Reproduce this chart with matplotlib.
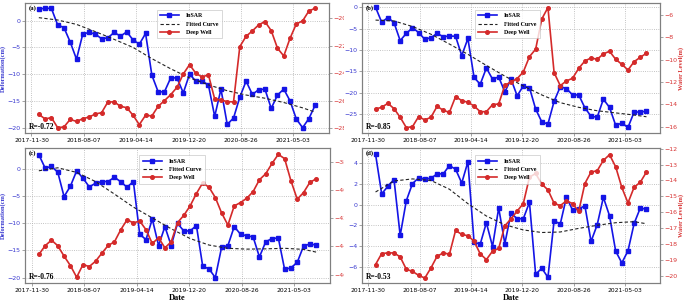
import matplotlib
matplotlib.use('Agg')
import matplotlib.pyplot as plt
from matplotlib.patches import Rectangle
import pandas as pd

# ---------------- data ----------------
dates = pd.date_range('2018-01-04', periods=45, freq='30D')
tick_dates = ['2017-11-30', '2018-08-07', '2019-04-14', '2019-12-20', '2020-08-26', '2021-05-03']
fit_idx = [0, 3, 6, 9, 12, 15, 18, 21, 24, 27, 30, 33, 36, 39, 42, 44]

insar_a = [2.2, 2.3, 2.3, -0.8, -1.3, -4.0, -7.2, -2.5, -2.2, -2.5, -3.4, -3.2, -2.2, -2.9, -2.1,
           -3.6, -4.4, -2.4, -10.2, -13.3, -13.3, -10.7, -10.7, -13.5, -10.0, -11.3, -11.3, -12.0,
           -17.9, -12.8, -19.4, -18.2, -14.3, -11.3, -13.8, -12.9, -12.8, -16.4, -13.9, -12.8,
           -15.0, -18.4, -20.0, -18.3, -15.8]
well_a = [-26.98, -27.32, -27.22, -27.95, -27.9, -27.35, -27.5, -27.3, -27.18, -26.96, -26.86,
          -26.08, -26.08, -26.4, -26.5, -27.05, -27.73, -27.05, -27.1, -26.4, -25.99, -25.55,
          -25.02, -24.05, -23.37, -24.0, -24.27, -24.1, -25.87, -25.94, -26.06, -26.08, -22.06,
          -21.31, -20.92, -20.48, -20.24, -20.9, -22.18, -22.74, -21.45, -20.41, -20.19, -19.47,
          -19.27]
fit_a = [0.56, 0.12, -0.7, -2.05, -3.5, -5.0, -7.1, -9.0, -10.7, -12.0, -13.1, -13.9, -14.5,
         -15.3, -16.3, -17.1]

insar_b = [0.0, -3.5, -2.4, -3.6, -7.8, -6.1, -4.8, -5.9, -7.5, -7.1, -6.1, -6.9, -6.7, -6.8,
           -11.3, -7.3, -16.4, -18.0, -14.2, -16.8, -16.3, -19.8, -16.8, -20.7, -18.4, -18.8,
           -23.8, -26.8, -27.3, -22.0, -18.6, -19.0, -20.5, -20.5, -23.5, -25.5, -25.7, -21.5,
           -23.4, -27.6, -27.1, -28.1, -24.5, -24.5, -24.3]
well_b = [-14.42, -14.27, -13.91, -14.39, -15.16, -16.09, -16.0, -15.1, -15.4, -15.16, -14.18,
          -14.54, -14.72, -13.31, -13.67, -13.82, -14.15, -14.66, -14.66, -14.03, -13.97, -12.3,
          -12.0, -11.7, -11.1, -9.73, -9.07, -6.36, -5.34, -11.16, -12.33, -11.91, -11.67,
          -10.78, -10.12, -9.85, -9.97, -9.49, -9.25, -9.97, -10.42, -10.93, -10.18, -9.79, -9.43]
fit_b = [-3.0, -3.2, -4.5, -6.3, -8.6, -11.0, -13.6, -16.1, -18.4, -20.5, -22.3, -23.4, -24.2,
         -24.7, -25.2, -25.6]

insar_c = [2.65, 0.19, 0.5, -0.56, -5.06, -3.15, -0.31, -1.67, -3.27, -2.59, -2.28, -2.28, -1.48,
           -2.35, -3.33, -2.28, -12.0, -13.0, -9.2, -14.1, -10.6, -14.1, -10.0, -11.4, -11.4,
           -10.4, -17.9, -18.4, -20.0, -14.4, -14.1, -10.6, -12.0, -12.3, -12.5, -16.2, -13.4,
           -12.8, -12.7, -18.5, -18.2, -17.2, -14.2, -13.8, -14.0]
well_c = [-44.57, -43.95, -43.55, -43.95, -44.69, -45.36, -46.19, -45.29, -45.43, -45.05, -44.48,
          -43.93, -43.67, -42.81, -42.1, -42.33, -42.19, -42.81, -43.79, -43.38, -44.1, -43.67,
          -42.31, -41.79, -41.12, -40.24, -39.48, -39.79, -40.52, -41.62, -42.48, -41.12, -40.88,
          -40.57, -40.1, -39.26, -38.83, -38.1, -37.45, -37.76, -39.33, -40.64, -40.17, -39.45,
          -39.19]
fit_c = [-0.3, 0.25, -0.6, -2.3, -4.6, -7.0, -9.0, -11.0, -12.8, -14.0, -14.6, -14.75, -14.7,
         -14.6, -14.8, -15.3]

insar_d = [4.9, 1.04, 1.79, 2.44, -2.99, 0.39, 2.05, 2.6, 2.5, 2.56, 2.99, 2.99, 3.8, 3.44, 2.1,
           4.16, -3.64, -3.83, -1.75, -4.06, -0.32, -3.77, -0.84, -1.36, -1.36, 0.23, -6.75,
           -6.17, -7.05, -1.56, -1.88, 0.71, -0.52, -0.42, -0.1, -3.57, -1.95, 0.71, -1.07,
           -4.51, -5.65, -4.48, -1.82, -0.32, -0.45]
well_d = [-19.28, -18.59, -18.55, -18.55, -18.8, -19.58, -19.71, -19.96, -20.13, -19.49, -18.76,
          -18.55, -18.63, -17.14, -17.39, -17.47, -17.81, -18.61, -18.97, -18.44, -18.27, -16.84,
          -16.42, -15.92, -15.45, -13.79, -13.56, -14.23, -14.59, -15.43, -15.58, -15.28, -15.45,
          -15.94, -14.19, -13.47, -13.39, -12.74, -12.38, -13.14, -14.44, -15.41, -14.42, -14.11,
          -13.47]
fit_d = [1.23, 2.3, 2.5, 2.35, 1.5, 0.1, -1.1, -1.95, -2.45, -2.7, -2.65, -2.3, -2.0, -1.75,
         -1.65, -1.85]

panel_labels = ['(a)', '(b)', '(c)', '(d)']
r_labels = ['R=-0.72', 'R=-0.85', 'R=-0.76', 'R=-0.53']
left_ticks = [[0, -5, -10, -15, -20], [0, -5, -10, -15, -20, -25],
              [0, -5, -10, -15, -20], [4, 2, 0, -2, -4, -6]]
right_ticks = [[-20, -22, -24, -26, -28], [-6, -8, -10, -12, -14, -16],
               [-38, -40, -42, -44, -46], [-12, -13, -14, -15, -16, -17, -18, -19, -20]]

# ---------------- layout / style ----------------
W, H = 685, 301
BLUE = '#1414e6'
RED = '#d42a2a'
TBLUE = '#3a3ad0'
TRED = '#d83535'
GRAY = '#7f7f7f'
SERIF = ['Liberation Serif', 'DejaVu Serif']

def rect(l, t, r, b):
    return [l / W, 1 - b / H, (r - l) / W, (b - t) / H]

panels = [
    dict(pos=rect(25, 3, 329, 133), ins=insar_a, well=well_a, fit=fit_a,
         yl=(-21.0, 3.3), yr=(-28.34, -18.89), leg=0.54, z=0, left_lab=True, right_lab=False, xlab=False),
    dict(pos=rect(362, 3, 660, 133), ins=insar_b, well=well_b, fit=fit_b,
         yl=(-29.4, 1.0), yr=(-16.57, -4.93), leg=0.487, z=2, left_lab=False, right_lab=True, xlab=False),
    dict(pos=rect(25, 148, 330, 283), ins=insar_c, well=well_c, fit=fit_c,
         yl=(-21.0, 3.9), yr=(-46.6, -37.0), leg=0.482, z=1, left_lab=True, right_lab=False, xlab=True),
    dict(pos=rect(362, 148, 660, 283), ins=insar_d, well=well_d, fit=fit_d,
         yl=(-7.6, 5.5), yr=(-20.44, -11.96), leg=0.487, z=4, left_lab=False, right_lab=True, xlab=True),
]

fig = plt.figure(figsize=(W / 100, H / 100), dpi=100)

# white "image" backgrounds for the right-hand panels (they sit over the left ones)
XCUT = 344
fig.patches.append(Rectangle((XCUT / W, 1 - 144 / H), 1 - XCUT / W, 144 / H, transform=fig.transFigure,
                             facecolor='white', edgecolor='none', zorder=1.5))
fig.patches.append(Rectangle((XCUT / W, 0), 1 - XCUT / W, 1 - 144 / H, transform=fig.transFigure,
                             facecolor='white', edgecolor='none', zorder=3.5))

tick_ts = pd.to_datetime(tick_dates)
fit_dates = dates[fit_idx]

for i, p in enumerate(panels):
    ax = fig.add_axes(p['pos'])
    ax.set_zorder(p['z'])
    ax2 = ax.twinx()
    ax2.set_zorder(p['z'] + 0.5)

    l1, = ax.plot(dates, p['ins'], color=BLUE, marker='s', markersize=2.6, linewidth=1.2, label='InSAR')
    l2, = ax.plot(fit_dates, p['fit'], color='#222222', linestyle=(0, (3, 2)), linewidth=0.8,
                  label='Fitted Curve')
    l3, = ax2.plot(dates, p['well'], color=RED, marker='o', markersize=2.6, linewidth=1.2,
                   label='Deep Well')

    ax.set_ylim(*p['yl'])
    ax2.set_ylim(*p['yr'])
    ax.set_yticks(left_ticks[i])
    ax2.set_yticks(right_ticks[i])
    ax.set_xticks(tick_ts)
    ax.set_xticklabels(tick_dates)

    ax.grid(True, linestyle=':', color='#b0b0b0', linewidth=0.6)
    ax.tick_params(axis='x', labelsize=4.3, length=2, width=0.5, color=GRAY, pad=1.5)
    ax.tick_params(axis='y', labelsize=4.5, length=2, width=0.5, color=GRAY, labelcolor=TBLUE, pad=1)
    ax2.tick_params(axis='y', labelsize=4.5, length=2, width=0.5, color=GRAY, labelcolor=TRED, pad=1)
    for a in (ax, ax2):
        for s in a.spines.values():
            s.set_color(GRAY)
            s.set_linewidth(0.8)

    if p['left_lab']:
        ax.set_ylabel('Deformation(cm)', color=TBLUE, fontsize=4.6, fontweight='bold', family=SERIF,
                      labelpad=1)
    if p['right_lab']:
        ax2.set_ylabel('Water Level(m)', color=TRED, fontsize=4.6, fontweight='bold', family=SERIF,
                       labelpad=0.8)
    if p['xlab']:
        ax.set_xlabel('Date', fontsize=6, fontweight='bold', family=SERIF, labelpad=1)

    ax.text(0.012, 0.985, panel_labels[i], transform=ax.transAxes, ha='left', va='top',
            fontsize=4.8, fontweight='bold', family=SERIF)
    ax.text(0.012, 0.012, r_labels[i], transform=ax.transAxes, ha='left', va='bottom',
            fontsize=5.5, fontweight='bold', family=SERIF)

    leg = ax2.legend(handles=[l1, l2, l3], loc='upper center', bbox_to_anchor=(p['leg'], 0.97),
                     prop=dict(family=SERIF, weight='bold', size=4.2), frameon=True, fancybox=False,
                     edgecolor='#bbbbbb', handlelength=3.2, borderpad=0.6, labelspacing=0.55,
                     handletextpad=1.2)
    leg.get_frame().set_linewidth(0.5)

fig.savefig('out.png', dpi=100)
